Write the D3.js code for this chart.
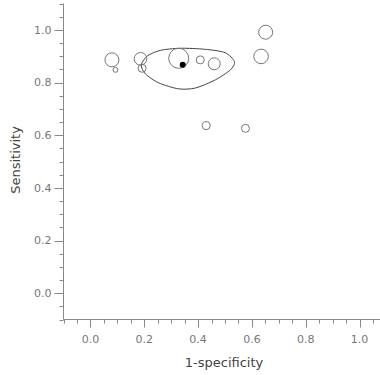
<!DOCTYPE html>
<html>
<head>
<meta charset="utf-8">
<script src="https://cdn.jsdelivr.net/npm/d3@7"></script>
<style>
  body { margin: 0; background: #fff; }
  text { font-family: "DejaVu Sans", Verdana, sans-serif; }
</style>
</head>
<body>
<div id="chart"></div>
<script>
// study points (1-specificity, sensitivity, weight)
var fpr    = [0.080, 0.093, 0.186, 0.192, 0.328, 0.408, 0.460, 0.634, 0.651, 0.430, 0.576]
var sens   = [0.886, 0.848, 0.890, 0.854, 0.892, 0.886, 0.871, 0.899, 0.991, 0.636, 0.626]
var weight = [49, 6, 40, 16, 100, 16, 36, 53, 49, 16, 16]

// summary point
var summaryX = 0.343
var summaryY = 0.867

// confidence region outline
var regionX = [0.535, 0.501, 0.427, 0.334, 0.260, 0.212, 0.189, 0.204, 0.253, 0.327, 0.390, 0.464, 0.520]
var regionY = [0.879, 0.913, 0.926, 0.930, 0.922, 0.901, 0.867, 0.833, 0.799, 0.776, 0.779, 0.810, 0.848]

var tickVals = [0, 0.2, 0.4, 0.6, 0.8, 1.0]

const width = 380, height = 375
const svg = d3.select("#chart").append("svg")
    .attr("width", width)
    .attr("height", height)

const x = d3.scaleLinear().domain([-0.1, 1.1]).range([63.5, 386.5])
const y = d3.scaleLinear().domain([-0.1, 1.1]).range([319.5, 3.5])
const r = d3.scaleSqrt().domain([0, 100]).range([0, 10])

var minor = d3.range(-0.1, 1.1001, 0.05).map(d => Math.round(d * 100) / 100)

// y axis
const gy = svg.append("g").attr("transform", "translate(63.5,0)")
gy.append("line").attr("y1", y(1.1)).attr("y2", y(-0.1)).attr("stroke", "#888")
gy.selectAll("line.minor").data(minor).join("line")
    .attr("class", "minor")
    .attr("x1", -4).attr("x2", 0)
    .attr("y1", d => Math.round(y(d)) + 0.5).attr("y2", d => Math.round(y(d)) + 0.5)
    .attr("stroke", "#888")
gy.selectAll("line.major").data(tickVals).join("line")
    .attr("class", "major")
    .attr("x1", -9).attr("x2", 0)
    .attr("y1", d => Math.round(y(d)) + 0.5).attr("y2", d => Math.round(y(d)) + 0.5)
    .attr("stroke", "#888")
gy.selectAll("text").data(tickVals).join("text")
    .attr("x", -12).attr("y", d => y(d))
    .attr("dy", "0.35em")
    .attr("text-anchor", "end")
    .attr("font-size", 11)
    .attr("fill", "#777")
    .text(d => d.toFixed(1))

// x axis
const gx = svg.append("g").attr("transform", "translate(0,319.5)")
gx.append("line").attr("x1", x(-0.1)).attr("x2", x(1.1)).attr("stroke", "#888")
gx.selectAll("line.minor").data(minor).join("line")
    .attr("class", "minor")
    .attr("y1", 0).attr("y2", 4)
    .attr("x1", d => Math.round(x(d)) + 0.5).attr("x2", d => Math.round(x(d)) + 0.5)
    .attr("stroke", "#888")
gx.selectAll("line.major").data(tickVals).join("line")
    .attr("class", "major")
    .attr("y1", 0).attr("y2", 8)
    .attr("x1", d => Math.round(x(d)) + 0.5).attr("x2", d => Math.round(x(d)) + 0.5)
    .attr("stroke", "#888")
gx.selectAll("text").data(tickVals).join("text")
    .attr("x", d => x(d)).attr("y", 20)
    .attr("dy", "0.35em")
    .attr("text-anchor", "middle")
    .attr("font-size", 11)
    .attr("fill", "#777")
    .text(d => d.toFixed(1))

// axis titles
svg.append("text")
    .attr("x", 224).attr("y", 362)
    .attr("dy", "0.35em")
    .attr("text-anchor", "middle")
    .attr("font-size", 13)
    .attr("fill", "#444")
    .text("1-specificity")
svg.append("text")
    .attr("transform", "translate(15,160) rotate(-90)")
    .attr("dy", "0.35em")
    .attr("text-anchor", "middle")
    .attr("font-size", 13)
    .attr("fill", "#444")
    .text("Sensitivity")

// confidence region
var region = regionX.map((d, i) => [d, regionY[i]])
svg.append("path")
    .attr("d", d3.line().x(d => x(d[0])).y(d => y(d[1])).curve(d3.curveCardinalClosed.tension(0.2))(region))
    .attr("fill", "none")
    .attr("stroke", "#444")
    .attr("stroke-width", 1)

// studies
svg.selectAll("circle.study").data(fpr).join("circle")
    .attr("class", "study")
    .attr("cx", d => x(d))
    .attr("cy", (d, i) => y(sens[i]))
    .attr("r", (d, i) => r(weight[i]))
    .attr("fill", "none")
    .attr("stroke", "#777")
    .attr("stroke-width", 1)

// summary point
svg.append("circle")
    .attr("cx", x(summaryX)).attr("cy", y(summaryY))
    .attr("r", 3)
    .attr("fill", "#000")
</script>
</body>
</html>
